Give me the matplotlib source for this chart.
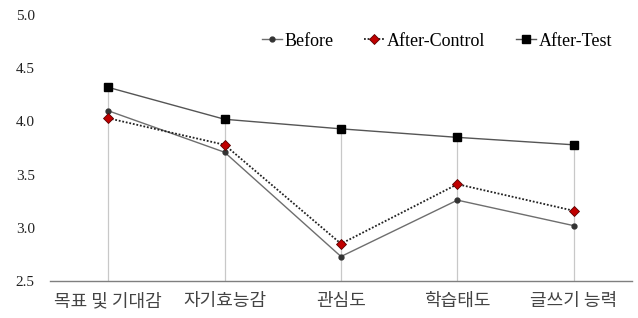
import matplotlib
matplotlib.use("Agg")
import matplotlib.pyplot as plt
import numpy as np

categories = ["목표 및 기대감", "자기효능감", "관심도", "학습태도", "글쓰기 능력"]
before = [4.10, 3.71, 2.73, 3.26, 3.02]
after_control = [4.03, 3.78, 2.85, 3.41, 3.16]
after_test = [4.32, 4.02, 3.93, 3.85, 3.78]
yticks = [2.5, 3.0, 3.5, 4.0, 4.5, 5.0]

fig = plt.figure(figsize=(6.38, 3.18), dpi=100)
ax = fig.add_axes([50/638, 1-281/318, 582/638, 266/318])
x = np.arange(len(categories))

tops = np.maximum(np.maximum(before, after_control), after_test)
ax.vlines(x, 2.5, tops, color="#c8c8c8", lw=0.9, zorder=1)

ax.plot(x, before, color="#6e6e6e", lw=1.0, marker="o", ms=3.5,
        mfc="#333333", mec="#333333", label="Before", zorder=3)
ax.plot(x, after_control, color="#222222", lw=1.3, ls=(0, (1, 1)), marker="D", ms=5,
        mfc="#c00000", mec="#5a0000", mew=0.6, label="After-Control", zorder=4)
ax.plot(x, after_test, color="#555555", lw=1.0, marker="s", ms=6,
        mfc="#000000", mec="#000000", label="After-Test", zorder=5)

ax.set_xlim(-0.5, 4.5)
ax.set_ylim(2.5, 5.0)
ax.set_yticks(yticks)
ax.set_yticklabels([f"{v:.1f}" for v in yticks], family="Liberation Serif", fontsize=11, color="#222222")
ax.set_xticks(x)
ax.set_xticklabels(categories, family=["Noto Sans CJK KR", "DejaVu Sans"], fontsize=13,
                   color="#444444", fontweight="light")
ax.tick_params(axis="both", length=0)
ax.tick_params(axis="y", pad=11)
ax.tick_params(axis="x", pad=8)
for s in ["top", "right", "left"]:
    ax.spines[s].set_visible(False)
ax.spines["bottom"].set_color("#7f7f7f")
ax.spines["bottom"].set_linewidth(1.0)

leg = ax.legend(loc="center", bbox_to_anchor=(437/638, 1-41/318), bbox_transform=fig.transFigure,
                ncol=3, frameon=False, handlelength=1.1, handletextpad=0.15, columnspacing=1.7,
                prop={"family": "Liberation Serif", "size": 13})

fig.savefig("out.png", dpi=100)
